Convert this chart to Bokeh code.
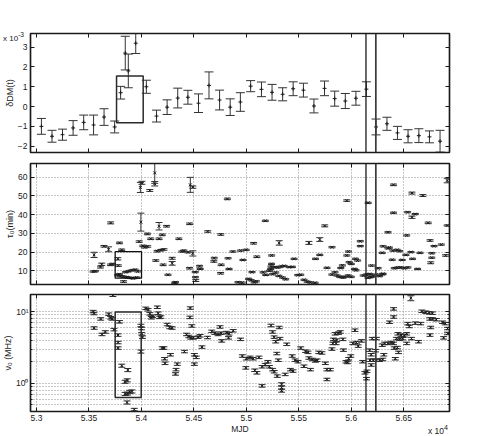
import numpy as np
from bokeh.plotting import figure
from bokeh.layouts import column
from bokeh.models import (FixedTicker, LinearAxis, LogAxis, Span, Range1d,
                          ColumnDataSource, Div)
from bokeh.embed import file_html
from bokeh.resources import INLINE

FONT = "Liberation Sans"
INK = "#1a1a1a"
BAR = "#333333"
GRID = "#8c8c8c"

# ---------------- shared x axis ----------------
x_lo, x_hi = 52943, 56936
xtick_vals = [53000, 53500, 54000, 54500, 55000, 55500, 56000, 56500]
xtick_labels = ["5.3", "5.35", "5.4", "5.45", "5.5", "5.55", "5.6", "5.65"]
glitch_mjd = [56140, 56234]

# ---------------- panel 1: dDM(t) in units of 1e-3 ----------------
dm_range = (-2.32, 3.69)
dm_ticks = [-2, -1, 0, 1, 2, 3]
dm_mjd = [53047, 53148, 53248, 53349, 53450, 53544, 53644, 53745, 53802, 53846,
          53875, 53946, 54047, 54144, 54245, 54346, 54443, 54544, 54644, 54745,
          54846, 54943, 55041, 55144, 55245, 55346, 55446, 55544, 55644, 55745,
          55842, 55943, 56044, 56144, 56236, 56340, 56440, 56541, 56644, 56745,
          56846]
dm_val = [-1.0, -1.5, -1.42, -1.08, -0.8, -0.93, -0.53, -1.03, 0.7, 2.7,
          1.8, 3.2, 1.0, -0.48, -0.03, 0.43, 0.47, 0.17, 1.07, 0.33,
          -0.03, 0.23, 1.03, 0.87, 0.72, 0.62, 0.9, 0.83, 0.03, 0.92,
          0.4, 0.28, 0.42, 0.88, -1.03, -0.87, -1.33, -1.5, -1.47, -1.53,
          -1.75]
dm_err = [0.4, 0.3, 0.28, 0.37, 0.37, 0.5, 0.42, 0.3, 0.32, 0.85,
          0.85, 0.52, 0.33, 0.3, 0.37, 0.5, 0.35, 0.47, 0.68, 0.5,
          0.42, 0.47, 0.28, 0.37, 0.4, 0.33, 0.35, 0.35, 0.35, 0.37,
          0.38, 0.38, 0.35, 0.37, 0.4, 0.33, 0.33, 0.33, 0.35, 0.3,
          0.55]
dm_box = dict(left=[53763], right=[54017], bottom=[-0.82], top=[1.54])

# ---------------- panel 2: tau_0 (min) ----------------
tau_range = (2.7, 67.3)
tau_ticks = [10, 20, 30, 40, 50, 60]
tau_mjd = [53540, 53562, 53549, 53610, 53622, 53643, 53687, 53707, 53705, 53725,
           53775, 53780, 53791, 53812, 53774, 53800, 53830, 53860, 53890, 53920,
           53955, 53850, 53880, 53910, 53940, 53830, 53790, 53965, 53979, 53990,
           54005, 53995, 54014, 54030, 54057, 54060, 54080, 54089, 54127, 54127,
           54137, 54150, 54168, 54168, 54185, 54199, 54207, 54215, 54240, 54253,
           54293, 54293, 54317, 54325, 54357, 54385, 54405, 54444, 54458, 54460,
           54466, 54490, 54490, 54513, 54515, 54518, 54554, 54560, 54632, 54694,
           54690, 54756, 54760, 54755, 54819, 54826, 54835, 54872, 54945, 54968,
           54998, 55054, 55069, 55100, 55021, 55045, 55075, 55095, 55181, 55185,
           55160, 55232, 55240, 55241, 55235, 55270, 55300, 55330, 55360, 55410,
           55439, 55220, 55250, 55280, 55310, 55345, 55375, 55313, 55455, 55518,
           55490, 55550, 55580, 55610, 55655, 55596, 55659, 55700, 55700, 55747,
           55769, 55816, 55815, 55845, 55865, 55890, 55920, 55935, 55900, 55915,
           55957, 55957, 55973, 55980, 56000, 55970, 56000, 56030, 56045, 56040,
           56060, 56086, 56086, 56114, 56145, 56161, 56175, 56207, 56193, 56240,
           56256, 56270, 56300, 56160, 56190, 56303, 56295, 56350, 56350, 56364,
           56390, 56397, 56402, 56402, 56410, 56437, 56440, 56460, 56470, 56505,
           56520, 56528, 56537, 56569, 56578, 56584, 56578, 56610, 56632, 56655,
           56682, 56733, 56751, 56757, 56767, 56767, 56789, 56858, 56899, 56914,
           56914, 56540, 56485, 56302, 54920, 54960]
tau_val = [9.6, 9.8, 18.5, 12.0, 13.5, 23.1, 21.5, 35.6, 13.2, 13.6,
           16.4, 12.8, 24.9, 21.2, 7.7, 7.2, 6.9, 6.6, 6.3, 6.0,
           6.4, 9.3, 9.8, 10.3, 10.6, 4.3, 8.2, 9.7, 25.6, 54.5,
           57.0, 36.0, 23.3, 22.6, 29.7, 23.0, 52.9, 27.1, 56.5, 62.3,
           15.5, 20.5, 33.8, 27.1, 21.0, 29.2, 13.2, 21.4, 33.8, 7.9,
           16.7, 14.0, 3.6, 3.9, 27.1, 20.3, 20.8, 19.9, 11.4, 35.1,
           55.9, 54.7, 19.3, 9.3, 6.6, 4.8, 12.5, 11.0, 31.0, 16.8,
           15.0, 29.4, 13.2, 8.7, 48.4, 16.7, 11.0, 20.3, 20.8, 15.8,
           21.2, 9.3, 24.7, 17.5, 5.7, 5.0, 3.9, 4.4, 36.7, 7.8,
           9.2, 11.0, 13.7, 18.2, 12.3, 12.0, 11.8, 12.3, 12.6, 12.0,
           12.1, 10.0, 8.2, 9.1, 7.3, 6.4, 5.5, 24.9, 16.4, 7.9,
           7.7, 5.2, 4.2, 3.8, 3.6, 24.9, 16.4, 26.7, 18.5, 34.0,
           11.6, 22.6, 8.0, 9.2, 7.5, 6.8, 6.4, 6.8, 11.5, 12.9,
           18.2, 47.5, 20.3, 14.6, 13.7, 7.5, 6.8, 11.0, 10.3, 16.4,
           15.5, 25.8, 23.2, 7.5, 8.0, 46.3, 8.3, 7.4, 12.8, 8.0,
           11.4, 7.2, 8.2, 6.3, 6.7, 23.1, 19.6, 22.0, 30.6, 22.4,
           15.9, 20.8, 55.9, 41.0, 11.4, 21.2, 11.7, 20.5, 11.8, 11.4,
           18.5, 28.9, 41.3, 20.0, 51.5, 16.4, 38.6, 40.3, 11.0, 19.6,
           50.2, 35.6, 26.2, 14.3, 17.0, 19.4, 23.2, 24.0, 18.2, 58.2,
           34.2, 11.8, 15.8, 8.4, 3.9, 3.7]
tau_err = [0.3, 0.3, 1.4, 0.5, 0.6, 0.4, 1.3, 0.5, 0.4, 0.4,
           0.6, 0.4, 0.4, 0.4, 0.3, 0.3, 0.3, 0.3, 0.3, 0.3,
           0.3, 0.3, 0.3, 0.3, 0.3, 0.4, 0.3, 0.3, 0.4, 2.7,
           0.8, 4.8, 0.4, 0.4, 0.4, 0.4, 0.5, 0.4, 1.2, 5.6,
           0.4, 0.4, 2.0, 0.4, 0.4, 0.4, 0.4, 0.4, 0.4, 0.3,
           0.5, 1.0, 0.3, 0.3, 0.4, 0.3, 0.3, 0.3, 0.4, 0.4,
           4.0, 0.6, 1.4, 0.3, 0.3, 0.5, 0.4, 0.3, 0.4, 0.4,
           0.4, 0.4, 0.4, 0.4, 0.4, 0.3, 0.3, 0.3, 0.3, 0.3,
           0.3, 0.3, 0.4, 0.4, 0.3, 0.3, 0.3, 0.3, 0.3, 0.3,
           0.3, 0.3, 0.3, 0.3, 0.3, 0.3, 0.3, 0.3, 0.3, 0.3,
           0.3, 0.3, 0.3, 0.3, 0.3, 0.3, 0.3, 1.2, 0.3, 0.3,
           0.3, 0.3, 0.3, 0.3, 0.3, 0.8, 0.3, 1.0, 0.3, 0.5,
           0.3, 0.3, 0.3, 0.3, 0.3, 0.3, 0.3, 0.3, 0.3, 0.3,
           0.3, 0.4, 0.3, 0.3, 0.3, 0.3, 0.3, 0.3, 0.3, 0.3,
           0.3, 0.3, 0.3, 0.3, 0.3, 0.3, 0.3, 0.3, 0.3, 0.3,
           0.3, 0.3, 0.3, 0.3, 0.3, 0.3, 0.3, 0.3, 0.3, 0.3,
           0.3, 0.3, 0.4, 0.3, 0.3, 0.3, 0.3, 0.3, 0.3, 0.3,
           0.3, 0.3, 0.3, 0.3, 0.5, 0.3, 0.6, 0.3, 0.3, 0.3,
           0.5, 0.4, 0.4, 0.5, 0.3, 0.3, 0.3, 0.3, 0.4, 1.2,
           0.3, 0.3, 0.3, 0.3, 0.3, 0.3]
tau_box = dict(left=[53750], right=[54001], bottom=[6.1], top=[20.2])

# ---------------- panel 3: nu_0 (MHz), log scale ----------------
nu_range = (0.404, 17.3)
nu_ticks = [1, 10]
nu_tick_labels = ["10\u2070", "10\u00b9"]
nu_minor = [0.4, 0.5, 0.6, 0.7, 0.8, 0.9, 2, 3, 4, 5, 6, 7, 8, 9]
nu_mjd = [53540, 53548, 53549, 53612, 53624, 53656, 53688, 53707, 53720, 53728,
          53738, 53791, 53777, 53778, 53778, 53813, 53870, 53845, 53865, 53845,
          53868, 53888, 53910, 53863, 53932, 53995, 54001, 54003, 54010, 53995,
          54042, 54063, 54080, 54095, 54105, 54152, 54160, 54170, 54185, 54246,
          54270, 54293, 54199, 54215, 54221, 54225, 54277, 54342, 54330, 54325,
          54410, 54430, 54452, 54470, 54495, 54540, 54560, 54466, 54462, 54480,
          54505, 54523, 54505, 54577, 54630, 54670, 54700, 54730, 54760, 54810,
          54835, 54875, 54749, 54765, 54830, 54944, 54962, 55000, 55035, 55065,
          55120, 55205, 54995, 55080, 55100, 55150, 55150, 55180, 55235, 55250,
          55265, 55280, 55220, 55250, 55265, 55295, 55290, 55305, 55336, 55336,
          55336, 55313, 55320, 55385, 55437, 55465, 55492, 55420, 55445, 55370,
          55518, 55565, 55587, 55549, 55611, 55596, 55627, 55658, 55674, 55690,
          55720, 55753, 55768, 55800, 55768, 55816, 55847, 55878, 55895, 55830,
          55860, 55825, 55855, 55920, 55925, 55950, 55965, 55995, 55975, 56035,
          56014, 56050, 56097, 56066, 56108, 56130, 56150, 56145, 56175, 56190,
          56178, 56190, 56232, 56200, 56240, 56210, 56240, 56270, 56300, 56295,
          56318, 56350, 56380, 56402, 56310, 56365, 56403, 56403, 56410, 56440,
          56450, 56420, 56445, 56475, 56506, 56528, 56430, 56460, 56490, 56538,
          56553, 56528, 56574, 56568, 56610, 56661, 56641, 56673, 56710, 56742,
          56773, 56748, 56773, 56810, 56757, 56750, 56870, 56895, 56917, 56917,
          56880]
nu_val = [10.0, 9.4, 5.9, 7.9, 4.8, 5.2, 9.2, 8.2, 7.9, 16.9,
          5.6, 7.2, 4.7, 3.7, 3.1, 1.76, 1.53, 1.05, 1.1, 0.71,
          0.72, 0.76, 0.77, 0.54, 0.43, 6.4, 5.8, 4.9, 4.4, 2.77,
          11.1, 10.6, 9.3, 8.2, 8.6, 11.5, 9.5, 8.3, 8.4, 6.6,
          6.0, 5.9, 3.1, 3.1, 2.2, 1.9, 2.5, 1.85, 1.55, 1.35,
          2.77, 4.8, 4.5, 4.3, 4.3, 4.4, 4.6, 11.2, 8.3, 6.3,
          2.5, 2.3, 1.85, 3.2, 4.35, 5.3, 5.0, 4.8, 5.0, 5.1,
          4.9, 5.4, 6.1, 3.9, 4.3, 4.1, 2.4, 2.2, 2.3, 2.2,
          2.3, 2.0, 1.64, 1.52, 1.4, 0.92, 1.7, 1.82, 6.4, 5.2,
          4.4, 3.8, 1.7, 1.55, 1.45, 1.26, 2.6, 2.1, 0.97, 0.87,
          0.79, 6.0, 4.2, 3.5, 2.4, 2.1, 2.0, 1.55, 1.48, 1.33,
          3.1, 2.8, 2.7, 1.73, 1.55, 2.25, 2.15, 2.05, 2.1, 2.7,
          2.65, 1.9, 1.55, 1.55, 1.13, 3.0, 4.9, 5.0, 5.2, 4.1,
          4.0, 3.6, 3.6, 4.1, 2.9, 2.0, 1.95, 2.4, 2.2, 5.5,
          3.6, 3.7, 3.9, 3.3, 2.0, 1.4, 1.47, 1.16, 2.9, 2.5,
          2.1, 1.8, 2.85, 4.2, 4.2, 2.1, 2.1, 2.1, 2.15, 3.4,
          3.6, 3.6, 3.7, 3.6, 2.5, 7.1, 8.4, 10.9, 3.1, 3.15,
          2.7, 2.2, 4.9, 4.7, 4.6, 4.9, 4.2, 4.1, 4.2, 6.8,
          6.2, 3.6, 4.2, 15.4, 6.9, 6.8, 3.8, 10.1, 9.8, 9.6,
          9.5, 7.9, 7.9, 7.7, 6.0, 4.7, 7.1, 6.8, 4.95, 5.8,
          4.3]
nu_rel_err = [0.04, 0.04, 0.04, 0.04, 0.04, 0.04, 0.04, 0.04, 0.04, 0.04,
              0.04, 0.04, 0.04, 0.04, 0.04, 0.05, 0.05, 0.05, 0.05, 0.05,
              0.05, 0.05, 0.05, 0.05, 0.04, 0.04, 0.04, 0.04, 0.04, 0.05,
              0.04, 0.04, 0.04, 0.04, 0.04, 0.04, 0.04, 0.04, 0.04, 0.04,
              0.04, 0.04, 0.04, 0.04, 0.04, 0.04, 0.04, 0.04, 0.04, 0.04,
              0.04, 0.04, 0.04, 0.04, 0.04, 0.04, 0.04, 0.04, 0.04, 0.04,
              0.04, 0.04, 0.04, 0.04, 0.04, 0.04, 0.04, 0.04, 0.04, 0.04,
              0.04, 0.04, 0.04, 0.04, 0.04, 0.04, 0.04, 0.04, 0.04, 0.04,
              0.04, 0.04, 0.04, 0.04, 0.04, 0.04, 0.04, 0.04, 0.04, 0.04,
              0.04, 0.04, 0.04, 0.04, 0.04, 0.04, 0.04, 0.04, 0.05, 0.05,
              0.05, 0.04, 0.04, 0.04, 0.04, 0.04, 0.04, 0.04, 0.04, 0.04,
              0.04, 0.04, 0.04, 0.04, 0.04, 0.04, 0.04, 0.04, 0.04, 0.04,
              0.04, 0.04, 0.04, 0.04, 0.04, 0.04, 0.04, 0.04, 0.04, 0.04,
              0.04, 0.04, 0.04, 0.04, 0.04, 0.04, 0.04, 0.04, 0.04, 0.04,
              0.04, 0.04, 0.04, 0.04, 0.04, 0.04, 0.04, 0.04, 0.04, 0.04,
              0.04, 0.04, 0.04, 0.04, 0.04, 0.04, 0.04, 0.04, 0.04, 0.04,
              0.04, 0.04, 0.04, 0.04, 0.04, 0.04, 0.04, 0.04, 0.04, 0.04,
              0.04, 0.04, 0.04, 0.04, 0.04, 0.04, 0.04, 0.04, 0.04, 0.04,
              0.04, 0.04, 0.04, 0.08, 0.04, 0.04, 0.04, 0.04, 0.04, 0.04,
              0.04, 0.04, 0.04, 0.04, 0.04, 0.04, 0.04, 0.04, 0.04, 0.04,
              0.04]
nu_box = dict(left=[53750], right=[53998], bottom=[0.635], top=[9.9])


def style_axis(ax, show_labels, log=False, standoff=3):
    ax.axis_line_color = INK
    ax.axis_line_width = 1.2
    ax.major_tick_in = 4
    ax.major_tick_out = 0
    ax.major_tick_line_color = INK
    if log:
        ax.minor_tick_in = 2
        ax.minor_tick_out = 0
        ax.minor_tick_line_color = INK
    else:
        ax.minor_tick_line_color = None
    ax.major_label_text_font = FONT
    ax.axis_label_text_font = FONT
    ax.axis_label_text_font_style = "normal"
    ax.axis_label_text_color = INK
    ax.axis_label_text_font_size = "9px"
    ax.axis_label_standoff = 0
    if show_labels:
        ax.major_label_text_color = INK
        ax.major_label_text_font_size = "8.5px"
        ax.major_label_standoff = standoff
    else:
        ax.major_label_text_color = None
        ax.major_label_text_font_size = "1px"
        ax.major_label_standoff = 0


def make_fig(h, bt, bb, yr, yticks, ylab, log=False, grid=True, xlab=None, ystand=3):
    p = figure(width=461, height=h, x_range=Range1d(x_lo, x_hi),
               y_range=Range1d(yr[0], yr[1]),
               y_axis_type="log" if log else "linear",
               output_backend="svg", toolbar_location=None,
               min_border_left=25, min_border_right=12,
               min_border_top=bt, min_border_bottom=bb)
    p.background_fill_color = "white"
    p.border_fill_color = "white"
    p.outline_line_color = INK
    p.outline_line_width = 1.5

    xt = FixedTicker(ticks=xtick_vals)
    if log:
        yt = FixedTicker(ticks=yticks, minor_ticks=nu_minor)
    else:
        yt = FixedTicker(ticks=yticks)

    bottom = p.below[0]
    left = p.left[0]
    bottom.ticker = xt
    left.ticker = yt
    style_axis(bottom, xlab is not None)
    style_axis(left, True, log, ystand)
    left.axis_label = ylab
    if xlab is not None:
        bottom.major_label_overrides = {v: t for v, t in zip(xtick_vals, xtick_labels)}
        bottom.axis_label = xlab
        bottom.axis_label_text_font_size = "8.5px"

    top = LinearAxis(ticker=xt)
    style_axis(top, False)
    p.add_layout(top, "above")
    right = LogAxis(ticker=yt) if log else LinearAxis(ticker=yt)
    style_axis(right, False, log)
    p.add_layout(right, "right")

    p.xgrid.ticker = xt
    p.ygrid.ticker = yt
    if grid:
        for g in (p.xgrid, p.ygrid):
            g.grid_line_color = GRID
            g.grid_line_dash = "1 2"
            g.grid_line_width = 1
        if log:
            p.ygrid.minor_grid_line_color = GRID
            p.ygrid.minor_grid_line_dash = "1 2"
            p.ygrid.minor_grid_line_width = 1
    else:
        p.xgrid.visible = False
        p.ygrid.visible = False

    for i, m in enumerate(glitch_mjd):
        p.add_layout(Span(location=m, dimension="height", line_color=INK if i == 0 else "#3a3a3a",
                          line_width=1.3 if i == 0 else 1.7))
    return p


def errorbars(p, x, y, lo, hi, cap, marker, msize):
    src = ColumnDataSource(dict(x=x, y=y, lo=lo, hi=hi))
    p.segment(x0="x", y0="lo", x1="x", y1="hi", source=src, line_color=BAR, line_width=1)
    p.scatter(x="x", y="lo", source=src, marker="dash", size=cap, line_color=BAR, line_width=1)
    p.scatter(x="x", y="hi", source=src, marker="dash", size=cap, line_color=BAR, line_width=1)
    p.scatter(x="x", y="y", source=src, marker=marker, size=msize, line_color=INK, line_width=1)


# ---- panel 1 ----
p1 = make_fig(157, 33, 5, dm_range, dm_ticks, "\u03b4DM(t)", grid=False)
n = min(len(dm_mjd), len(dm_val), len(dm_err))
x1 = np.array(dm_mjd[:n], float)
v1 = np.array(dm_val[:n], float)
e1 = np.array(dm_err[:n], float)
errorbars(p1, x1, v1, v1 - e1, v1 + e1, 9, "cross", 4)
p1.quad(source=ColumnDataSource(dm_box), left="left", right="right", bottom="bottom",
        top="top", fill_color=None, line_color="#2a2a2a", line_width=1.5)

# ---- panel 2 ----
p2 = make_fig(132, 6, 5, tau_range, tau_ticks, "\u03c4\u2080(min)")
n = min(len(tau_mjd), len(tau_val), len(tau_err))
x2 = np.array(tau_mjd[:n], float)
v2 = np.array(tau_val[:n], float)
e2 = np.array(tau_err[:n], float)
errorbars(p2, x2, v2, v2 - e2, v2 + e2, 7, "x", 4)
p2.quad(source=ColumnDataSource(tau_box), left="left", right="right", bottom="bottom",
        top="top", fill_color=None, line_color="#111111", line_width=1.3)

# ---- panel 3 ----
p3 = make_fig(147, 5, 23, nu_range, nu_ticks, "\u03bd\u2080 (MHz)", log=True,
              xlab="MJD", ystand=2)
p3.left[0].major_label_overrides = {v: t for v, t in zip(nu_ticks, nu_tick_labels)}
n = min(len(nu_mjd), len(nu_val), len(nu_rel_err))
x3 = np.array(nu_mjd[:n], float)
v3 = np.array(nu_val[:n], float)
r3 = np.array(nu_rel_err[:n], float)
errorbars(p3, x3, v3, v3 * (1 - r3), v3 * (1 + r3), 7, "x", 4)
p3.quad(source=ColumnDataSource(nu_box), left="left", right="right", bottom="bottom",
        top="top", fill_color=None, line_color="#2a2a2a", line_width=1.5)

# ---- exponent notes (x 10^-3 top-left, x 10^4 bottom-right) ----
note_style = {"font-family": FONT, "font-size": "8px", "line-height": "10px",
              "color": INK, "white-space": "nowrap", "position": "relative",
              "z-index": "5"}
exp_top = Div(text="x 10<sup>-3</sup>", width=26, height=10, margin=(30, 0, -40, 3),
              styles=note_style)
exp_bot = Div(text="x 10<sup>4</sup>", width=26, height=10, margin=(-13, 0, 0, 428),
              styles=dict(note_style, **{"font-size": "8.5px"}))

layout = column(exp_top, p1, p2, p3, exp_bot)

with open("out.html", "w") as f:
    f.write(file_html(layout, INLINE))
